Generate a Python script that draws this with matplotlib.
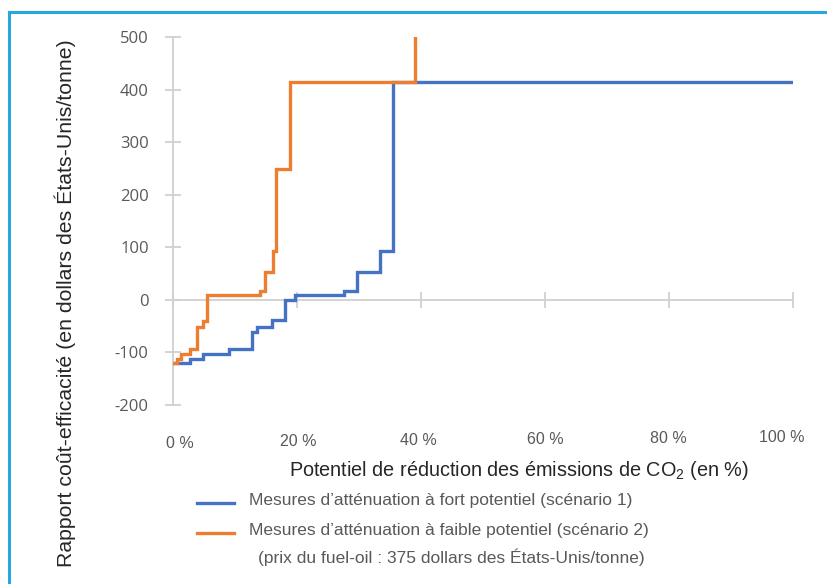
import matplotlib
matplotlib.use("Agg")
import matplotlib.pyplot as plt
from matplotlib.lines import Line2D

plt.rcParams['font.family'] = ['Liberation Sans', 'DejaVu Sans']
plt.rcParams['mathtext.fontset'] = 'custom'
plt.rcParams['mathtext.rm'] = 'Liberation Sans'
plt.rcParams['mathtext.default'] = 'regular'
plt.rcParams['axes.unicode_minus'] = False

# scenario 1 (high potential) - step starts and cost levels
s1_x = [0, 2.7, 4.9, 9.0, 12.7, 13.5, 16.0, 18.0, 19.7, 27.5, 29.7, 33.4, 35.5, 100]
s1_y = [-120, -112, -103, -93, -62, -52, -39, 0, 10, 17, 53, 93, 415, 415]

# scenario 2 (low potential)
s2_x = [0, 0.6, 1.3, 2.7, 3.9, 4.8, 5.5, 14.1, 14.9, 16.1, 16.6, 18.9, 39.0]
s2_y = [-120, -112, -103, -93, -52, -40, 10, 17, 53, 93, 249, 415, 500]

x_ticks = [0, 20, 40, 60, 80, 100]
x_tick_labels = ["0 %", "20 %", "40 %", "60 %", "80 %", "100 %"]
y_ticks = [-200, -100, 0, 100, 200, 300, 400, 500]

legend_labels = ["Mesures d\u2019atténuation à fort potentiel (scénario 1)",
                 "Mesures d\u2019atténuation à faible potentiel (scénario 2)",
                 "(prix du fuel-oil : 375 dollars des États-Unis/tonne)"]

blue = "#4472C4"
orange = "#ED7D31"
axis_grey = "#D0D0D0"
text_grey = "#595959"

W, H = 827, 584
fig = plt.figure(figsize=(W / 100, H / 100), dpi=100)
ax = fig.add_axes([173 / W, (H - 405) / H, 620 / W, 368 / H])

ax.plot(s1_x, s1_y, drawstyle="steps-post", color=blue, lw=2.4, solid_joinstyle="miter")
ax.plot(s2_x, s2_y, drawstyle="steps-post", color=orange, lw=2.4, solid_joinstyle="miter")

ax.set_xlim(0, 100)
ax.set_ylim(-200, 500)
ax.spines['top'].set_visible(False)
ax.spines['right'].set_visible(False)
ax.spines['bottom'].set_position(('data', 0))
for s in ['left', 'bottom']:
    ax.spines[s].set_color(axis_grey)
    ax.spines[s].set_linewidth(1.3)
ax.spines['left'].set_zorder(0)
ax.spines['bottom'].set_zorder(0)

ax.set_yticks(y_ticks)
ax.set_xticks(x_ticks)
ax.tick_params(axis='both', direction='inout', length=11, width=1.3, color=axis_grey)
ax.tick_params(axis='y', labelsize=12, labelcolor=text_grey, pad=12)
ax.tick_params(axis='x', labelbottom=False)
for lab in ax.get_yticklabels():
    lab.set_fontfamily(['Open Sans', 'DejaVu Sans'])

# x tick labels sit well below the zero line, slightly rising to the right,
# the outer ones pulled a little inwards
x_label_shift = [7, 1, -3, 0, -1, -11]
for i, (xv, lab) in enumerate(zip(x_ticks, x_tick_labels)):
    ypix = 443 - i * 1.2
    fig.text((173 + xv * 6.2 + x_label_shift[i]) / W, (H - ypix) / H, lab,
             ha="center", va="center", fontsize=11.5, color=text_grey)

fig.text(519 / W, (H - 470) / H, "Potentiel de réduction des émissions de CO$_2$ (en %)",
         ha="center", va="center", fontsize=14.3, color="#262626")
fig.text(65 / W, (H - 303) / H, "Rapport coût-efficacité (en dollars des États-Unis/tonne)",
         ha="center", va="center", rotation=90, fontsize=15.3, color="#262626")

# legend
fig.add_artist(Line2D([197 / W, 234 / W], [(H - 503) / H] * 2, color=blue, lw=2.4))
fig.add_artist(Line2D([197 / W, 234 / W], [(H - 533) / H] * 2, color=orange, lw=2.4))
fig.text(249 / W, (H - 501) / H, legend_labels[0], ha="left", va="center", fontsize=12.5, color=text_grey)
fig.text(249 / W, (H - 531) / H, legend_labels[1], ha="left", va="center", fontsize=12.5, color=text_grey)
fig.text(258 / W, (H - 557) / H, legend_labels[2], ha="left", va="center", fontsize=12.5, color=text_grey)

# frame border (top and left edges visible)
border = "#29A8E0"
fig.add_artist(Line2D([9 / W, 1.0], [(H - 12) / H] * 2, color=border, lw=2.2))
fig.add_artist(Line2D([9 / W] * 2, [0, (H - 12) / H], color=border, lw=2.2))

fig.savefig("out.png", dpi=100)
